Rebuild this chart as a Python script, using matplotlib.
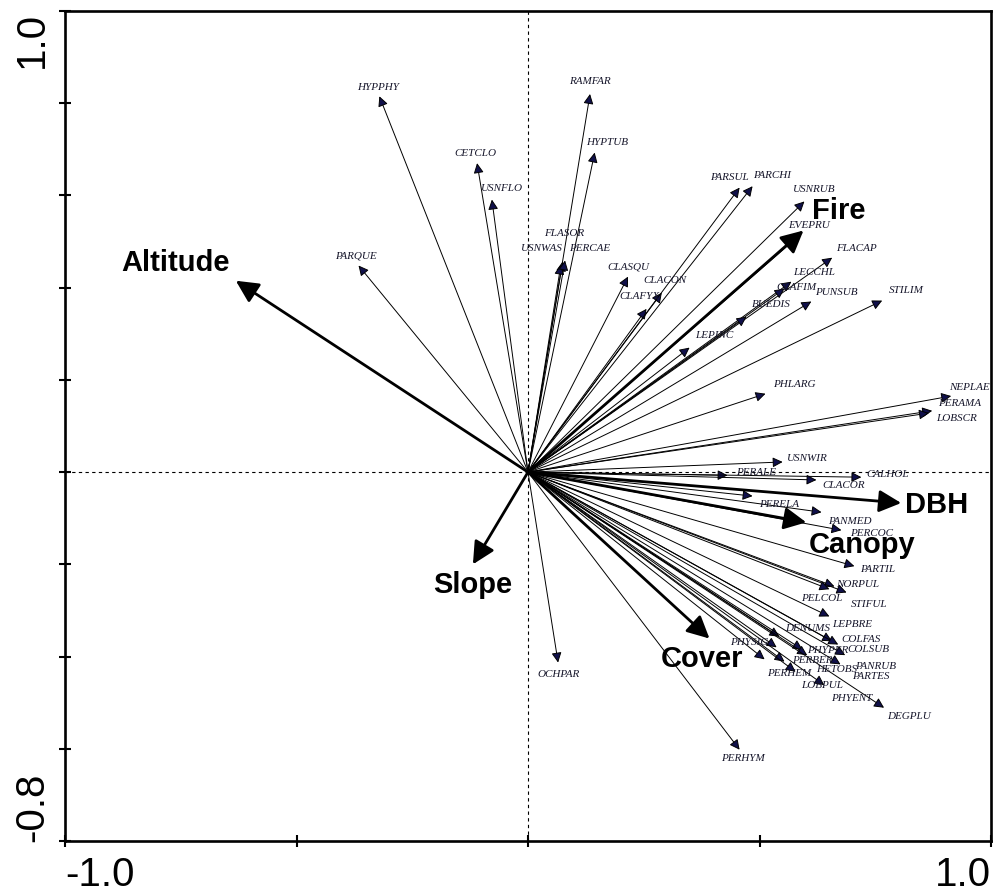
import matplotlib
matplotlib.use("Agg")
import matplotlib.pyplot as plt
from matplotlib.patches import FancyArrowPatch

# ---------------- data ----------------
species = ["HYPPHY", "CETCLO", "USNFLO", "RAMFAR", "HYPTUB", "FLASOR", "USNWAS", "PERCAE",
           "PARQUE", "CLASQU", "CLACON", "CLAFYX", "PARSUL", "PARCHI", "USNRUB", "EVEPRU",
           "FLACAP", "LECCHL", "CLAFIM", "PUNSUB", "BUEDIS", "STILIM", "LEPINC", "PHLARG",
           "NEPLAE", "PERAMA", "LOBSCR", "USNWIR", "PERALE", "CALHOL", "CLACOR", "PERELA",
           "PANMED", "PERCOC", "PARTIL", "NORPUL", "STIFUL", "PELCOL", "LEPBRE", "DENUMS",
           "COLFAS", "PHYSIG", "PHYPER", "COLSUB", "PERBER", "HETOBS", "PANRUB", "PERHEM",
           "PARTES", "LOBPUL", "PHYENT", "DEGPLU", "PERHYM", "OCHPAR"]
sp_x = [-0.321, -0.110, -0.078, 0.134, 0.144, 0.075, 0.071, 0.080,
        -0.366, 0.216, 0.289, 0.256, 0.457, 0.485, 0.597, 0.586,
        0.657, 0.569, 0.554, 0.612, 0.472, 0.765, 0.349, 0.513,
        0.914, 0.873, 0.866, 0.550, 0.431, 0.720, 0.623, 0.485,
        0.634, 0.677, 0.705, 0.662, 0.688, 0.651, 0.651, 0.543,
        0.657, 0.537, 0.593, 0.670, 0.554, 0.603, 0.685, 0.511,
        0.675, 0.578, 0.640, 0.769, 0.457, 0.065]
sp_y = [0.815, 0.670, 0.591, 0.820, 0.693, 0.457, 0.450, 0.459,
        0.448, 0.424, 0.389, 0.354, 0.617, 0.620, 0.587, 0.513,
        0.465, 0.413, 0.398, 0.370, 0.337, 0.372, 0.270, 0.170,
        0.165, 0.133, 0.128, 0.022, -0.007, -0.011, -0.017, -0.052,
        -0.087, -0.126, -0.204, -0.248, -0.261, -0.254, -0.313, -0.357,
        -0.367, -0.380, -0.385, -0.374, -0.411, -0.397, -0.397, -0.406,
        -0.417, -0.433, -0.462, -0.511, -0.602, -0.413]

env_names = ["Altitude", "Slope", "Cover", "Canopy", "DBH", "Fire"]
env_x = [-0.631, -0.119, 0.392, 0.601, 0.806, 0.595]
env_y = [0.415, -0.200, -0.361, -0.109, -0.067, 0.524]

x_ticks = [-1.0, -0.5, 0.0, 0.5, 1.0]
y_ticks = [-0.8, -0.6, -0.4, -0.2, 0.0, 0.2, 0.4, 0.6, 0.8, 1.0]
x_ticklabels = ["-1.0", "", "", "", "1.0"]
y_ticklabels = ["-0.8", "", "", "", "", "", "", "", "", "1.0"]

# ---------------- layout (label offsets in pixels) ----------------
sp_off = {
    "HYPPHY": (-1, 10), "CETCLO": (-2, 11), "USNFLO": (10, 12), "RAMFAR": (0, 13),
    "HYPTUB": (12, 11), "FLASOR": (1, 29), "USNWAS": (-19, 17), "PERCAE": (25, 13),
    "PARQUE": (-3, 11), "CLASQU": (0, 11), "CLACON": (3, 13), "CLAFYX": (-7, 13),
    "PARSUL": (-10, 11), "PARCHI": (20, 12), "USNRUB": (10, 13), "EVEPRU": (10, 11),
    "FLACAP": (24, 10), "LECCHL": (23, 10), "CLAFIM": (12, 2), "PUNSUB": (25, 10),
    "BUEDIS": (25, 13), "STILIM": (24, 11), "LEPINC": (25, 13), "PHLARG": (29, 10),
    "NEPLAE": (18, 10), "PERAMA": (27, 8), "LOBSCR": (28, -4), "USNWIR": (25, 4),
    "PERALE": (29, 4), "CALHOL": (26, 4), "CLACOR": (27, -5), "PERELA": (27, -7),
    "PANMED": (28, -8), "PERCOC": (30, -2), "PARTIL": (23, -2), "NORPUL": (23, 3),
    "STIFUL": (23, -11), "PELCOL": (-8, -8), "LEPBRE": (23, -7), "DENUMS": (28, 9),
    "COLFAS": (29, 3), "PHYSIG": (-27, 6), "PHYPER": (25, 0), "COLSUB": (30, -4),
    "PERBER": (28, 2), "HETOBS": (29, -13), "PANRUB": (30, -10), "PERHEM": (25, -13),
    "PARTES": (30, -11), "LOBPUL": (27, -13), "PHYENT": (27, -12), "DEGPLU": (25, -8),
    "PERHYM": (3, -8), "OCHPAR": (0, -11),
}
env_off = {"Altitude": (-60, 19), "Slope": (0, -20), "Cover": (-7, -19),
           "Canopy": (56, -22), "DBH": (35, -1), "Fire": (35, 20)}

W, H = 993, 895
fig = plt.figure(figsize=(W / 100, H / 100), dpi=100)
ax = fig.add_axes([65 / W, (H - 842) / H, 926 / W, 830 / H])
ax.set_xlim(-1.0, 1.0)
ax.set_ylim(-0.8, 1.0)

# dashed axes through origin
ax.axhline(0, color="black", lw=0.8, ls=(0, (3, 3)), zorder=1)
ax.axvline(0, color="black", lw=0.8, ls=(0, (3, 3)), zorder=1)

navy = "#10104a"
for name, x, y in zip(species, sp_x, sp_y):
    arr = FancyArrowPatch((0, 0), (x, y), arrowstyle="-|>,head_length=4,head_width=2",
                          mutation_scale=1.5, lw=0.7, edgecolor="black",
                          facecolor=navy, shrinkA=0, shrinkB=0, zorder=2)
    ax.add_patch(arr)
    dx, dy = sp_off[name]
    ax.annotate(name, (x, y), xytext=(dx, dy), textcoords="offset pixels",
                ha="center", va="center", fontsize=8, style="italic",
                family=["Liberation Serif", "DejaVu Serif"], color="#15152a", zorder=4)

for name, x, y in zip(env_names, env_x, env_y):
    arr = FancyArrowPatch((0, 0), (x, y), arrowstyle="-|>,head_length=9,head_width=4.5",
                          mutation_scale=1.5, lw=2.0, color="black",
                          shrinkA=0, shrinkB=0, zorder=3)
    ax.add_patch(arr)
    dx, dy = env_off[name]
    ax.annotate(name, (x, y), xytext=(dx, dy), textcoords="offset pixels",
                ha="center", va="center", fontsize=21, fontweight="bold",
                family=["Liberation Sans", "DejaVu Sans"], color="black", zorder=5)

# frame and ticks
for sp in ax.spines.values():
    sp.set_linewidth(1.9)
ax.set_xticks(x_ticks)
ax.set_yticks(y_ticks)
ax.set_xticklabels(x_ticklabels)
ax.set_yticklabels(y_ticklabels, rotation=90)
ax.tick_params(direction="inout", length=8, width=1.5, labelsize=29, pad=6)
tick_font = ["Liberation Sans Narrow", "Liberation Sans", "DejaVu Sans"]
xl = ax.get_xticklabels()
for lab in xl:
    lab.set_family(tick_font)
xl[0].set_ha("left")
xl[-1].set_ha("right")
yl = ax.get_yticklabels()
for lab in yl:
    lab.set_family(tick_font)
yl[0].set_va("bottom")
yl[-1].set_va("top")

fig.savefig("out.png", dpi=100)
